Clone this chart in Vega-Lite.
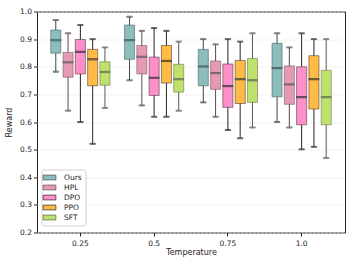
{
  "$schema": "https://vega.github.io/schema/vega-lite/v6.json",
  "width": 308,
  "height": 221,
  "autosize": {"type": "none"},
  "padding": {"left": 37, "top": 11.5, "right": 9, "bottom": 33.5},
  "background": "white",
  "config": {
    "font": "DejaVu Sans",
    "view": {"stroke": "#222", "strokeWidth": 1},
    "axis": {"labelFontSize": 7.5, "titleFontSize": 8, "labelColor": "#222", "titleColor": "#222", "titleFontWeight": "normal", "tickColor": "#222", "tickSize": 3.5, "domain": false, "labelOverlap": false},
    "legend": {"title": null, "orient": "none", "legendX": 4.5, "legendY": 158, "symbolType": "M-1.6,-0.6H1.6V0.6H-1.6Z", "symbolSize": 64, "symbolStrokeWidth": 0.7, "symbolOpacity": 1, "labelFontSize": 7.5, "labelColor": "#222", "rowPadding": 1, "padding": 3.5, "strokeColor": "#d0d0d0", "fillColor": "white", "cornerRadius": 2, "labelOffset": 10}
  },
  "resolve": {"scale": {"y": "shared"}, "axis": {"y": "independent"}},
  "data": {"values": [
    {"temp": "0.25", "method": "Ours", "lo": 0.782, "q1": 0.849, "med": 0.896, "q3": 0.933, "hi": 0.969},
    {"temp": "0.25", "method": "HPL", "lo": 0.641, "q1": 0.762, "med": 0.816, "q3": 0.852, "hi": 0.921},
    {"temp": "0.25", "method": "DPO", "lo": 0.600, "q1": 0.774, "med": 0.854, "q3": 0.899, "hi": 0.951},
    {"temp": "0.25", "method": "PPO", "lo": 0.521, "q1": 0.731, "med": 0.827, "q3": 0.863, "hi": 0.900},
    {"temp": "0.25", "method": "SFT", "lo": 0.651, "q1": 0.733, "med": 0.781, "q3": 0.818, "hi": 0.870},
    {"temp": "0.5", "method": "Ours", "lo": 0.751, "q1": 0.827, "med": 0.896, "q3": 0.951, "hi": 0.981},
    {"temp": "0.5", "method": "HPL", "lo": 0.660, "q1": 0.774, "med": 0.836, "q3": 0.877, "hi": 0.930},
    {"temp": "0.5", "method": "DPO", "lo": 0.619, "q1": 0.696, "med": 0.760, "q3": 0.835, "hi": 0.940},
    {"temp": "0.5", "method": "PPO", "lo": 0.619, "q1": 0.741, "med": 0.821, "q3": 0.877, "hi": 0.930},
    {"temp": "0.5", "method": "SFT", "lo": 0.641, "q1": 0.708, "med": 0.755, "q3": 0.809, "hi": 0.891},
    {"temp": "0.75", "method": "Ours", "lo": 0.671, "q1": 0.731, "med": 0.801, "q3": 0.863, "hi": 0.900},
    {"temp": "0.75", "method": "HPL", "lo": 0.619, "q1": 0.718, "med": 0.777, "q3": 0.821, "hi": 0.881},
    {"temp": "0.75", "method": "DPO", "lo": 0.571, "q1": 0.653, "med": 0.730, "q3": 0.810, "hi": 0.900},
    {"temp": "0.75", "method": "PPO", "lo": 0.541, "q1": 0.667, "med": 0.755, "q3": 0.823, "hi": 0.891},
    {"temp": "0.75", "method": "SFT", "lo": 0.580, "q1": 0.671, "med": 0.751, "q3": 0.830, "hi": 0.921},
    {"temp": "1.0", "method": "Ours", "lo": 0.600, "q1": 0.691, "med": 0.795, "q3": 0.885, "hi": 0.921},
    {"temp": "1.0", "method": "HPL", "lo": 0.580, "q1": 0.664, "med": 0.736, "q3": 0.803, "hi": 0.870},
    {"temp": "1.0", "method": "DPO", "lo": 0.501, "q1": 0.590, "med": 0.690, "q3": 0.800, "hi": 0.921},
    {"temp": "1.0", "method": "PPO", "lo": 0.510, "q1": 0.647, "med": 0.755, "q3": 0.840, "hi": 0.900},
    {"temp": "1.0", "method": "SFT", "lo": 0.470, "q1": 0.590, "med": 0.690, "q3": 0.787, "hi": 0.900}
  ]},
  "encoding": {
    "x": {
      "field": "temp", "type": "nominal", "sort": ["0.25", "0.5", "0.75", "1.0"],
      "scale": {"paddingInner": 0, "paddingOuter": 0.088},
      "axis": {"labelAngle": 0, "title": "Temperature", "titlePadding": 2, "labelPadding": 3}
    },
    "xOffset": {
      "field": "method", "type": "nominal", "sort": ["Ours", "HPL", "DPO", "PPO", "SFT"],
      "scale": {"paddingInner": 0.18, "paddingOuter": 0.59}
    },
    "stroke": {"field": "method", "type": "nominal",
      "scale": {"domain": ["Ours", "HPL", "DPO", "PPO", "SFT"], "range": ["#3a4a4a", "#5a4a50", "#2a2025", "#2a2520", "#55604a"]}}
  },
  "layer": [
    {
      "mark": {"type": "rule", "strokeWidth": 1},
      "encoding": {
        "y": {"field": "lo", "type": "quantitative", "scale": {"domain": [0.2, 1.0], "nice": false, "zero": false},
          "axis": {"title": "Reward", "values": [0.2, 0.3, 0.4, 0.5, 0.6, 0.7, 0.8, 0.9, 1.0], "tickCount": 12, "format": ".1f", "grid": true, "gridDash": [2, 2], "gridColor": "#e3e3e3", "gridWidth": 0.8, "titlePadding": 6, "labelPadding": 2, "labelOverlap": false}},
        "y2": {"field": "hi"}
      }
    },
    {
      "mark": {"type": "bar", "strokeWidth": 0.9, "strokeOpacity": 0.55},
      "encoding": {
        "y": {"field": "q1", "type": "quantitative", "scale": {"domain": [0.2, 1.0], "nice": false, "zero": false}, "axis": null},
        "y2": {"field": "q3"},
        "color": {"field": "method", "type": "nominal",
          "scale": {"domain": ["Ours", "HPL", "DPO", "PPO", "SFT"], "range": ["#8dbcbd", "#e699b3", "#ff8fc9", "#ffbb45", "#bde16b"]}}
      }
    },
    {
      "mark": {"type": "tick", "size": 10, "thickness": 1.2},
      "encoding": {
        "y": {"field": "med", "type": "quantitative", "scale": {"domain": [0.2, 1.0], "nice": false, "zero": false}, "axis": null}
      }
    },
    {
      "mark": {"type": "tick", "size": 5.5, "thickness": 1},
      "encoding": {
        "y": {"field": "lo", "type": "quantitative", "scale": {"domain": [0.2, 1.0], "nice": false, "zero": false}, "axis": null}
      }
    },
    {
      "mark": {"type": "tick", "size": 5.5, "thickness": 1},
      "encoding": {
        "y": {"field": "hi", "type": "quantitative", "scale": {"domain": [0.2, 1.0], "nice": false, "zero": false}, "axis": null}
      }
    }
  ]
}
